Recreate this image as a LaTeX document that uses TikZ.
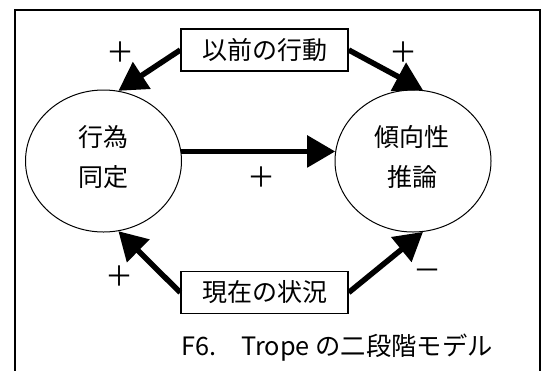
\documentclass[tikz,border=0pt]{standalone}
\usepackage{fontspec}
\setmainfont{Noto Sans CJK JP}
\usetikzlibrary{arrows.meta,shapes.geometric}
\begin{document}
\begin{tikzpicture}[x=1pt,y=-1pt,
  oval/.style={draw,line width=1pt,ellipse,minimum width=156pt,minimum height=142pt,inner sep=0pt},
  ovaltext/.style={align=center,inner sep=0pt,font=\fontsize{25}{40}\selectfont},
  lbox/.style={draw,line width=1.5pt,minimum width=167pt,minimum height=42pt,inner sep=0pt,
     font=\fontsize{25}{30}\selectfont},
  arr/.style={line width=5.5pt,-{Triangle[length=28pt,width=31pt]}},
  sign/.style={font=\fontsize{28}{30}\selectfont,inner sep=0pt}]
\useasboundingbox (0,0) rectangle (548,370);
\draw[line width=2.5pt] (15,372) -- (15,10) -- (540,10) -- (540,372);
\node[oval] (L) at (103.5,161) {};
\node[oval] (R) at (413,161) {};
\node[ovaltext] (Lt) at (103,157) {行為\\同定};
\node[ovaltext] (Rt) at (412,157) {傾向性\\推論};
\node[lbox] (T) at (264.5,50) {以前の行動};
\node[lbox] (B) at (264.5,292.5) {現在の状況};
\draw[arr] (T.west) -- (L.78);
\draw[arr] (T.east) -- (R.82);
\draw[arr] (L.7) -- (R.173);
\draw[arr] (B.west) -- (L.-78);
\draw[arr] (B.east) -- (R.-82);
\node[sign] (s1) at (120,52) {＋};
\node[sign] (s2) at (403,52) {＋};
\node[sign] (s3) at (261,177) {＋};
\node[sign] (s4) at (119,276) {＋};
\node[sign] (s5) at (427,275) {－};
\node[anchor=west,inner sep=0pt,font=\fontsize{25.3}{28}\selectfont] (cap) at (181,348) {F6.　Trope の二段階モデル};
\end{tikzpicture}
\end{document}
